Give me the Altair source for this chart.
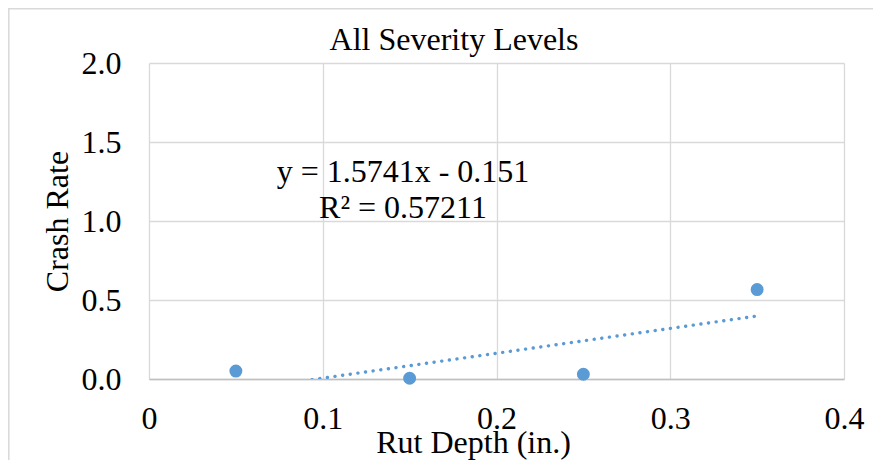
import altair as alt
import pandas as pd

# Data
rut_depth = [0.05, 0.15, 0.25, 0.35]
crash_rate = [0.05, 0.005, 0.03, 0.566]

x_ticks = [0, 0.1, 0.2, 0.3, 0.4]
y_ticks = [0, 0.5, 1.0, 1.5, 2.0]

title_text = ["All Severity Levels"]
equation_text = ["y = 1.5741x - 0.151"]
r2_text = ["R\u00b2 = 0.57211"]

BLUE = "#5B9BD5"
GRID = "#d9d9d9"
FONT = "Liberation Serif"

df = pd.DataFrame({"x": rut_depth, "y": crash_rate})

x_enc = alt.X(
    "x:Q",
    scale=alt.Scale(domain=[0, 0.4], nice=False, zero=False),
    axis=alt.Axis(
        values=x_ticks, format="~g", title="Rut Depth (in.)",
        grid=True, gridColor=GRID, gridWidth=1.3,
        domain=True, domainColor="#bfbfbf", domainWidth=1.5,
        ticks=False, labelFlush=False, labelOverlap=False,
        labelFont=FONT, labelFontSize=32, labelColor="black", labelPadding=24,
        titleFont=FONT, titleFontSize=32, titleFontWeight="normal", titleColor="black",
        titleX=324, titleY=73, titleAlign="center", titleBaseline="alphabetic",
    ),
)
y_enc = alt.Y(
    "y:Q",
    scale=alt.Scale(domain=[0, 2], nice=False),
    axis=alt.Axis(
        values=y_ticks, format=".1f", title="Crash Rate",
        grid=True, gridColor=GRID, gridWidth=1.3,
        domain=False, ticks=False, labelOverlap=False,
        labelFont=FONT, labelFontSize=32, labelColor="black", labelPadding=28,
        labelBaseline="middle",
        titleFont=FONT, titleFontSize=32, titleFontWeight="normal", titleColor="black",
        titleX=-82, titleY=158, titleAlign="center", titleBaseline="alphabetic", titleAngle=-90,
    ),
)

points = alt.Chart(df).mark_circle(size=168, color=BLUE, opacity=1).encode(x=x_enc, y=y_enc)

trend = (
    alt.Chart(df)
    .transform_regression("x", "y", extent=[0.05, 0.35])
    .mark_line(color=BLUE, strokeWidth=3.4, strokeDash=[0.1, 7.6], strokeCap="round", clip=True)
    .encode(x="x:Q", y="y:Q")
)

title = alt.Chart(pd.DataFrame({"t": title_text})).mark_text(
    font=FONT, fontSize=32, color="black", align="center", baseline="alphabetic"
).encode(x=alt.value(305), y=alt.value(-13), text="t:N")

eq = alt.Chart(pd.DataFrame({"t": equation_text})).mark_text(
    font=FONT, fontSize=32, color="black", align="center", baseline="alphabetic"
).encode(x=alt.value(254), y=alt.value(119), text="t:N")

r2 = alt.Chart(pd.DataFrame({"t": r2_text})).mark_text(
    font=FONT, fontSize=32, color="black", align="center", baseline="alphabetic"
).encode(x=alt.value(254), y=alt.value(155), text="t:N")

frame_top = alt.Chart(pd.DataFrame({"a": [0]})).mark_rule(color=GRID, strokeWidth=1.5).encode(
    x=alt.value(-141), x2=alt.value(730), y=alt.value(-54.2)
)
frame_left = alt.Chart(pd.DataFrame({"a": [0]})).mark_rule(color=GRID, strokeWidth=1.5).encode(
    x=alt.value(-140.2), y=alt.value(-55), y2=alt.value(400)
)

chart = (
    alt.layer(frame_top, frame_left, trend, points, title, eq, r2)
    .properties(
        width=695, height=316,
        autosize=alt.AutoSizeParams(type="none"),
        padding={"left": 141, "top": 55, "right": 29, "bottom": 81},
        background="white",
    )
    .configure_view(stroke="transparent")
)

chart.save("out.html", embed_options={"renderer": "svg", "actions": False})
